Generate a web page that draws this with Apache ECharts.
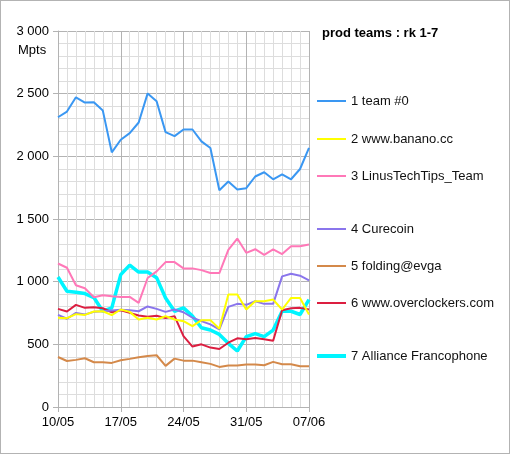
<!DOCTYPE html>
<html>
<head>
<meta charset="utf-8">
<script src="https://cdn.jsdelivr.net/npm/echarts@6/dist/echarts.min.js"></script>
<style>
  html, body { margin: 0; padding: 0; background: #fff; }
  #chart { width: 510px; height: 454px; box-sizing: border-box; border: 1px solid #b3b3b3; }
</style>
</head>
<body>
<div id="chart"></div>
<script>
// jours du 10/05 au 07/06
var days = ['10/05','11/05','12/05','13/05','14/05','15/05','16/05','17/05','18/05','19/05',
  '20/05','21/05','22/05','23/05','24/05','25/05','26/05','27/05','28/05','29/05',
  '30/05','31/05','01/06','02/06','03/06','04/06','05/06','06/06','07/06'];

var team0 = [2312,2357,2471,2429,2431,2365,2032,2132,2185,2270,2502,2439,2193,2161,2214,2214,
  2119,2066,1730,1799,1736,1746,1839,1873,1817,1857,1817,1899,2068];
var banano = [712,709,741,735,762,764,733,778,759,698,712,698,725,698,685,645,693,693,624,897,
  897,778,844,844,857,778,870,870,738];
var linus = [1145,1111,971,947,876,892,884,878,878,831,1029,1082,1156,1156,1106,1106,1092,1069,
  1069,1254,1344,1230,1259,1214,1257,1220,1283,1283,1296];
var curecoin = [735,704,751,738,759,764,770,775,772,764,802,783,759,778,756,712,685,659,619,799,
  823,815,844,823,823,1042,1063,1048,1010];
var evga = [399,367,376,389,357,357,352,373,384,397,407,413,328,386,370,370,357,344,320,331,331,
  339,339,333,360,341,341,325,325];
var overclockers = [783,762,815,791,796,788,756,772,751,730,720,728,709,725,566,482,500,474,463,
  513,548,540,550,540,529,772,788,791,778];
var alliance = [1037,924,916,905,873,764,791,1056,1132,1077,1077,1032,870,764,791,725,632,614,
  579,508,447,561,585,561,614,764,764,738,857];

var teamNames = ['1 team #0','2 www.banano.cc','3 LinusTechTips_Team','4 Curecoin',
  '5 folding@evga','6 www.overclockers.com','7 Alliance Francophone'];
var teamColors = ['#3a97f2','#ffff00','#ff78b8','#8a75ec','#d4894a','#dc1e40','#00f5ff'];
var teamWidths = [2, 2, 2, 2, 2, 2, 3.5];
var legendTops = [100, 138, 175, 228, 265, 302, 355];

var font = 'Liberation Sans, Arial, sans-serif';
var myChart = echarts.init(document.getElementById('chart'));

function fmt(v) {
  return String(v).replace(/\B(?=(\d{3})+(?!\d))/g, ' ');
}

var allData = [team0, banano, linus, curecoin, evga, overclockers, alliance];

var series = allData.map(function (d, i) {
  return {
    name: teamNames[i],
    type: 'line',
    data: d,
    symbol: 'none',
    color: teamColors[i],
    lineStyle: { width: teamWidths[i], color: teamColors[i] },
    z: 10 - i
  };
});

// une légende par équipe, car l'espacement n'est pas régulier
var legends = teamNames.map(function (n, i) {
  return {
    data: [n],
    left: 311,
    top: legendTops[i] - 12,
    icon: 'rect',
    itemWidth: 29,
    itemHeight: Math.round(teamWidths[i]),
    itemGap: 0,
    selectedMode: false,
    textStyle: { fontFamily: font, fontSize: 13, color: '#111', height: 14, lineHeight: 14 }
  };
});

// 7 couleurs = 1 ligne majeure toutes les semaines, 6 mineures
var vLineColors = ['#b3b3b3','#dddddd','#dddddd','#dddddd','#dddddd','#dddddd','#dddddd'];

var option = {
  animation: false,
  backgroundColor: '#fff',
  title: [
    {
      text: 'prod teams : rk 1-7',
      left: 316,
      top: 21,
      textStyle: { fontFamily: font, fontSize: 13, fontWeight: 'bold', color: '#000' }
    },
    {
      text: 'Mpts',
      left: 12,
      top: 38,
      textStyle: { fontFamily: font, fontSize: 13, fontWeight: 'normal', color: '#000' }
    }
  ],
  legend: legends,
  grid: { left: 57, right: 200, top: 30, bottom: 46, containLabel: false },
  xAxis: {
    type: 'category',
    data: days,
    boundaryGap: false,
    axisLine: { lineStyle: { color: '#b3b3b3', width: 1 } },
    axisTick: { show: true, interval: 6, length: 5, lineStyle: { color: '#b3b3b3' } },
    axisLabel: {
      interval: 6, margin: 9, color: '#000',
      fontFamily: font, fontSize: 13
    },
    splitLine: { show: true, interval: 0, lineStyle: { color: vLineColors, width: 1 } }
  },
  yAxis: {
    type: 'value',
    min: 0,
    max: 3000,
    interval: 500,
    axisLine: { show: true, lineStyle: { color: '#b3b3b3', width: 1 } },
    axisTick: { show: true, length: 5, lineStyle: { color: '#b3b3b3' } },
    axisLabel: { margin: 9, color: '#000', fontFamily: font, fontSize: 13, formatter: fmt },
    splitLine: { show: true, lineStyle: { color: '#b3b3b3', width: 1 } },
    minorTick: { show: false, splitNumber: 5 },
    minorSplitLine: { show: true, lineStyle: { color: '#dddddd', width: 1 } }
  },
  series: series
};

myChart.setOption(option);
</script>
</body>
</html>
